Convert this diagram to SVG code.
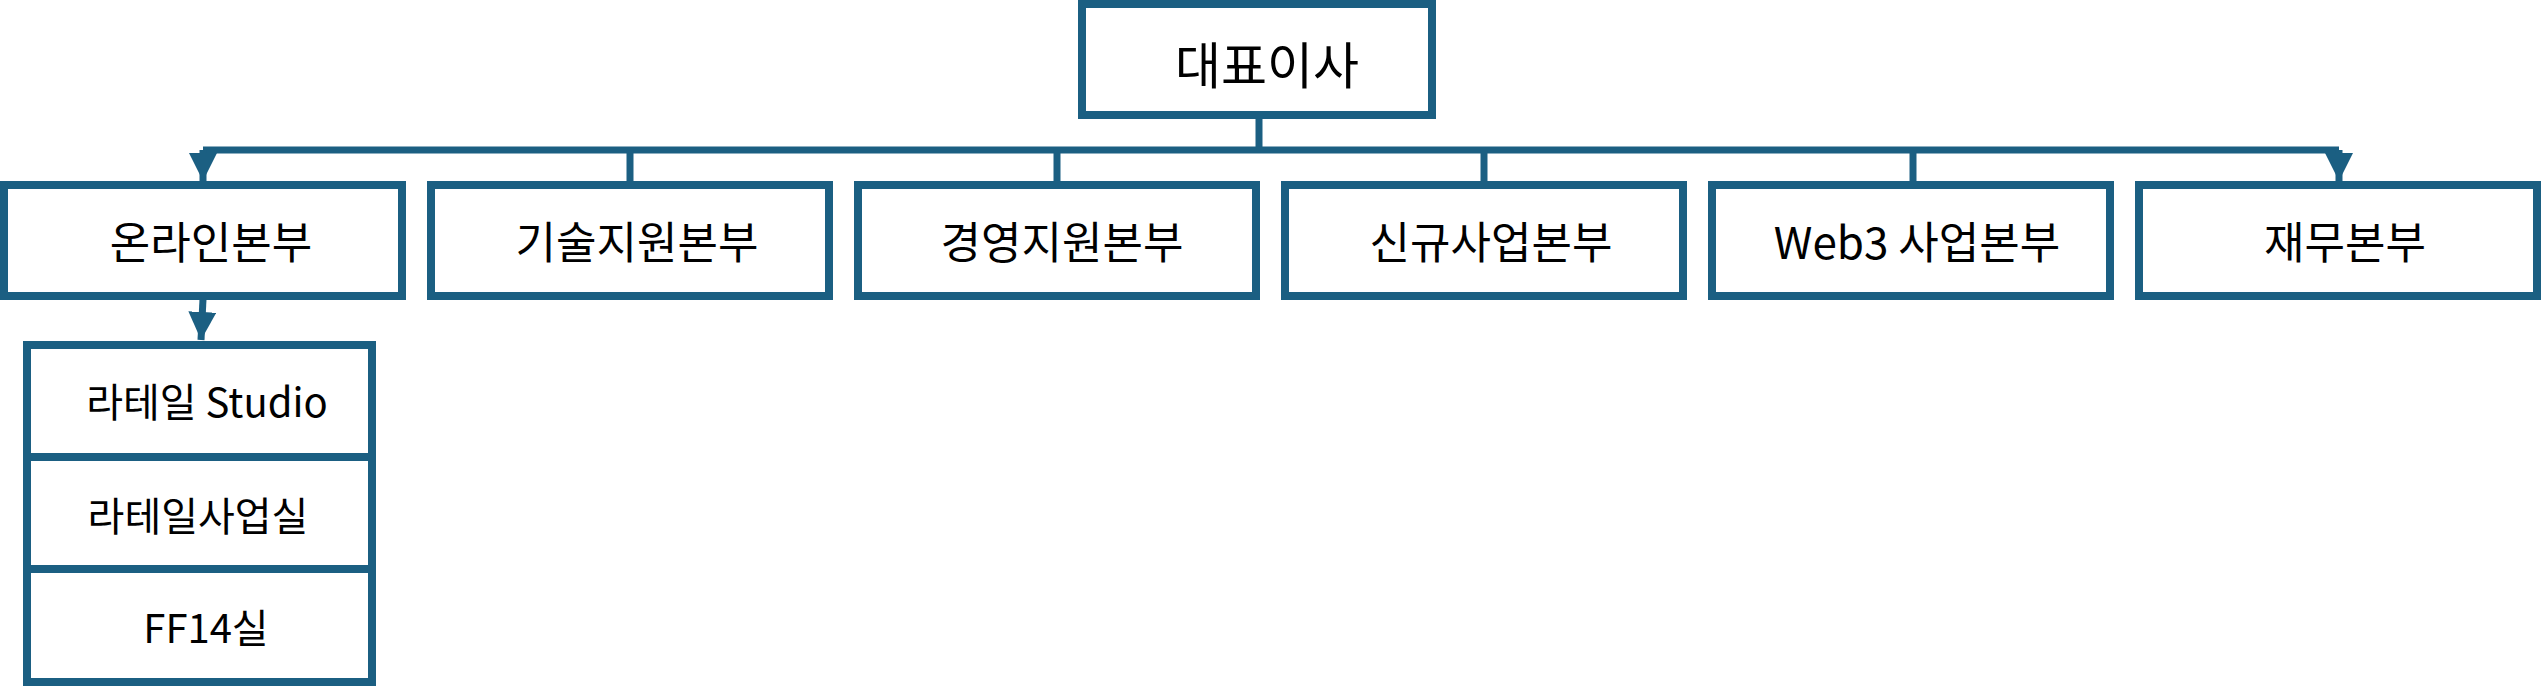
<svg xmlns="http://www.w3.org/2000/svg" width="2544" height="686" viewBox="0 0 2544 686">
<style>
.b{fill:#fff;stroke:#1b5f82;stroke-width:8}
.l{fill:none;stroke:#1b5f82;stroke-width:7}
text{font-family:"Noto Sans CJK KR","Noto Sans",sans-serif;fill:#000;text-anchor:middle;dominant-baseline:central}
.c{font-size:44px}
.s{font-size:40px}
</style>
<defs>
<marker id="a" viewBox="0 0 10 10" refX="10" refY="5" markerWidth="4" markerHeight="4" markerUnits="strokeWidth" orient="auto"><path d="M0,0L10,5L0,10z" fill="#1b5f82"/></marker>
</defs>
<g id="connectors">
<path class="l" d="M1259,115V150"/>
<path class="l" d="M203,150H2339"/>
<path class="l" d="M203,150V181" marker-end="url(#a)"/>
<path class="l" d="M2339,150V181" marker-end="url(#a)"/>
<path class="l" d="M630,150V184"/>
<path class="l" d="M1057,150V184"/>
<path class="l" d="M1484,150V184"/>
<path class="l" d="M1913,150V184"/>
<path class="l" d="M203,299L201,340" marker-end="url(#a)"/>
</g>
<g id="ceo"><rect class="b" x="1082" y="4" width="350" height="111"/><text x="1267" y="62" style="font-size:50px">대표이사</text></g>
<g id="n1"><rect class="b" x="4" y="185" width="398" height="111"/><text class="c" x="211" y="240">온라인본부</text></g>
<g id="n2"><rect class="b" x="431" y="185" width="398" height="111"/><text class="c" x="637" y="240">기술지원본부</text></g>
<g id="n3"><rect class="b" x="858" y="185" width="398" height="111"/><text class="c" x="1062" y="240">경영지원본부</text></g>
<g id="n4"><rect class="b" x="1285" y="185" width="398" height="111"/><text class="c" x="1491" y="240">신규사업본부</text></g>
<g id="n5"><rect class="b" x="1712" y="185" width="398" height="111"/><text class="c" x="1917" y="240">Web3 사업본부</text></g>
<g id="n6"><rect class="b" x="2139" y="185" width="398" height="111"/><text class="c" x="2345" y="240">재무본부</text></g>
<g id="s1"><rect class="b" x="27" y="345" width="345" height="112"/><text class="s" x="207" y="400">라테일 Studio</text></g>
<g id="s2"><rect class="b" x="27" y="457" width="345" height="112"/><text class="s" x="198" y="514">라테일사업실</text></g>
<g id="s3"><rect class="b" x="27" y="569" width="345" height="113"/><text class="s" x="206" y="626">FF14실</text></g>
</svg>
